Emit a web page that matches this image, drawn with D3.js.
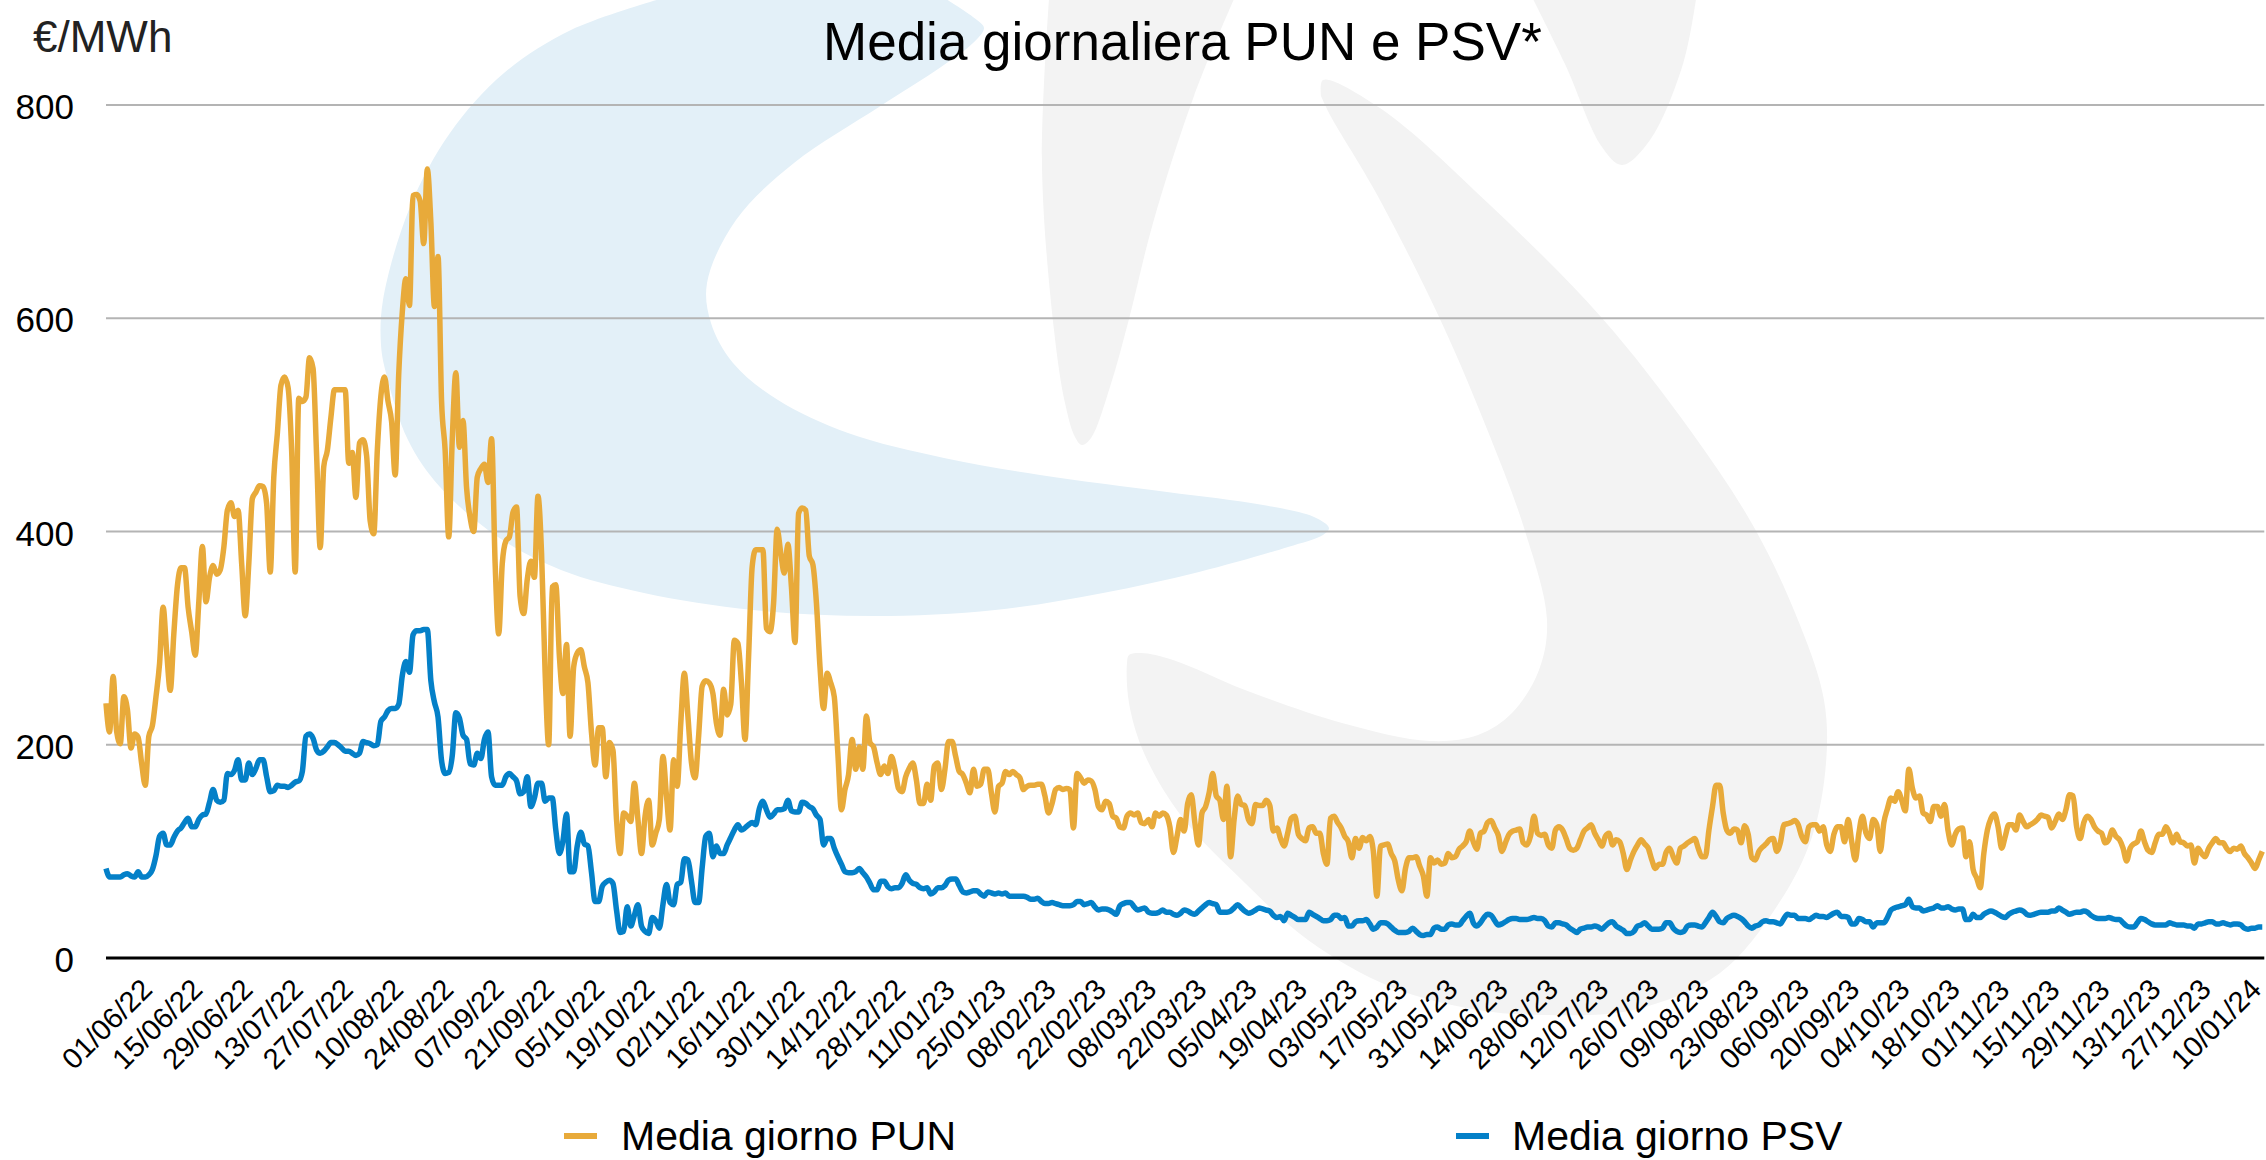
<!DOCTYPE html>
<html><head><meta charset="utf-8">
<script src="https://cdn.jsdelivr.net/npm/d3@7/dist/d3.min.js"></script>
<style>html,body{margin:0;padding:0;background:#fff}svg{display:block}text{font-family:"Liberation Sans",Arial,sans-serif}</style>
</head><body><svg id="c" width="2266" height="1160"></svg>
<script>
const titleText = "Media giornaliera PUN e PSV*";
const unitText = "€/MWh";
const seriesNames = ["Media giorno PUN", "Media giorno PSV"];
const yTicks = [0, 200, 400, 600, 800];
const xTickLabels = ["01/06/22","15/06/22","29/06/22","13/07/22","27/07/22","10/08/22","24/08/22","07/09/22","21/09/22","05/10/22","19/10/22","02/11/22","16/11/22","30/11/22","14/12/22","28/12/22","11/01/23","25/01/23","08/02/23","22/02/23","08/03/23","22/03/23","05/04/23","19/04/23","03/05/23","17/05/23","31/05/23","14/06/23","28/06/23","12/07/23","26/07/23","09/08/23","23/08/23","06/09/23","20/09/23","04/10/23","18/10/23","01/11/23","15/11/23","29/11/23","13/12/23","27/12/23","10/01/24"];
// daily values from 01/06/22
const pun = [239,212,264,212,201,245,233,197,210,207,182,162,208,218,245,276,329,287,251,304,349,366,366,329,306,284,334,386,334,357,
368,360,364,385,420,427,414,420,370,321,370,431,437,443,442,426,362,451,492,537,545,535,476,362,525,522,526,563,553,471,
385,461,476,507,533,533,533,533,464,474,432,483,486,471,410,398,476,527,545,522,503,453,548,606,637,612,715,716,710,670,
740,690,611,658,522,476,395,487,549,479,504,441,413,400,451,459,463,446,487,370,304,370,391,395,418,423,339,323,355,372,
357,433,380,268,200,348,350,283,248,294,208,273,286,289,273,258,211,181,216,216,170,202,195,130,98,136,133,128,164,130,
98,133,148,106,117,130,189,152,120,186,161,220,267,227,183,169,208,255,260,258,248,220,209,252,228,238,298,295,258,205,
283,367,383,383,383,309,306,333,402,380,361,388,348,296,417,422,420,377,369,333,273,234,267,258,245,192,139,158,172,205,
177,198,177,227,202,198,183,172,180,173,189,177,159,156,170,178,183,167,145,145,163,148,180,183,158,177,203,203,189,175,
172,164,155,177,161,163,177,177,155,137,161,164,175,172,175,172,169,158,161,162,162,163,163,152,136,145,158,160,158,159,
158,122,173,169,164,167,166,158,142,139,147,145,133,131,123,122,133,136,134,136,127,126,130,123,136,133,136,134,123,99,
114,130,119,145,153,127,106,136,142,155,173,152,148,130,161,95,130,152,144,143,130,126,144,143,143,148,143,119,122,112,
105,117,131,133,116,112,110,122,123,117,117,98,88,131,133,127,122,114,109,94,112,103,113,110,114,100,58,105,106,107,
98,91,73,63,84,94,94,95,86,77,58,94,89,92,88,89,98,94,95,102,105,109,119,109,102,117,119,127,129,122,
115,100,108,116,119,120,121,108,106,114,133,117,115,116,106,103,120,123,120,112,103,101,103,111,119,122,125,117,111,105,
114,117,106,111,109,98,83,92,100,106,111,107,103,92,84,88,88,99,103,95,89,103,105,108,110,112,103,95,95,120,
142,162,162,136,120,117,121,120,108,124,116,94,92,100,104,107,111,112,100,108,125,126,127,129,125,114,109,123,125,125,
119,123,106,100,116,123,123,109,130,109,92,117,133,117,112,130,125,100,127,140,150,147,156,148,138,177,159,150,152,136,
134,128,142,142,133,144,119,106,116,121,122,95,109,83,75,66,98,120,131,135,123,103,114,125,125,120,134,128,123,125,
127,130,134,133,132,122,128,135,130,139,153,152,123,112,127,133,130,123,119,117,108,111,120,114,111,103,91,103,107,109,
119,109,101,99,108,116,116,123,117,108,116,109,108,105,106,89,103,98,95,103,108,112,108,108,103,100,103,102,105,98,
94,89,84,92,100];
const psv = [84,76,76,76,76,78,79,77,76,81,76,76,78,83,96,114,117,106,106,113,119,122,127,131,123,123,130,134,135,146,
158,148,146,148,173,172,176,186,167,167,183,172,178,186,186,170,156,157,162,161,161,160,162,165,166,175,208,210,206,195,
192,194,198,202,202,200,197,194,194,192,190,192,203,202,201,199,200,222,226,232,234,234,238,265,278,268,303,307,307,308,
308,260,240,226,185,173,174,190,230,225,209,205,182,181,192,187,205,212,170,162,162,162,170,173,170,166,154,156,170,142,
150,164,164,147,150,150,120,98,110,135,81,81,105,118,107,105,80,53,53,67,71,73,70,45,24,25,48,30,40,50,
30,25,23,38,35,28,50,69,52,50,69,71,93,92,72,52,52,85,114,117,95,105,98,98,106,113,120,125,120,122,
125,127,125,140,147,139,132,135,139,139,140,148,138,137,137,146,145,142,140,134,130,106,112,112,103,95,88,81,80,80,
81,84,80,76,70,64,64,72,72,67,65,66,66,70,78,73,70,69,66,65,66,60,62,66,66,68,73,74,74,68,
62,61,62,63,63,60,58,62,61,60,61,60,61,58,58,58,58,58,57,55,55,56,53,51,51,52,51,50,49,49,
49,50,53,53,50,51,52,48,45,46,46,45,43,41,49,51,52,52,48,45,46,47,43,42,42,43,45,43,43,41,
40,42,45,44,42,41,44,47,50,52,51,50,43,43,43,44,47,50,47,44,42,43,45,47,46,45,44,40,38,39,
35,42,40,38,36,36,36,43,41,39,37,35,35,36,40,40,37,38,30,30,34,35,35,36,32,27,29,33,33,32,
29,26,24,24,24,25,28,25,22,21,22,22,28,29,27,27,31,32,31,31,35,39,42,33,30,33,38,41,40,35,
31,32,34,36,37,37,36,36,36,37,38,37,37,35,30,29,33,33,32,31,28,26,24,27,28,29,29,30,29,27,
30,33,34,30,28,26,23,23,25,30,31,33,30,27,27,27,28,33,33,28,25,24,25,30,31,31,30,29,33,38,
43,39,34,33,37,39,40,39,37,34,30,28,30,31,34,35,34,34,33,32,37,41,40,40,37,37,37,36,38,40,
39,39,38,40,42,43,39,39,38,32,32,37,36,34,34,29,33,33,33,38,45,47,48,49,50,55,48,47,47,44,
45,46,47,49,47,47,48,46,45,46,46,36,36,41,38,38,41,43,44,43,41,39,38,41,43,44,45,44,41,40,
41,42,43,43,43,44,44,47,45,43,41,42,43,43,44,43,40,38,37,37,37,38,37,36,36,33,30,29,29,33,
37,36,34,32,31,31,31,31,33,32,31,31,31,30,30,28,32,32,33,34,34,32,32,33,32,31,32,32,31,28,
27,28,28,29,29];

const L = 106, pxPerDay = 3.57, y0 = 958, y800 = 105;
const svg = d3.select("#c");
const x = d3.scaleLinear().domain([0, pun.length - 1]).range([L, L + (pun.length - 1) * pxPerDay]);
const y = d3.scaleLinear().domain([0, 800]).range([y0, y800]);
const xLabel = d3.scaleLinear().domain([0, xTickLabels.length - 1]).range([114, 2223]);
const xRight = x.range()[1] + 2;

// watermark
const blob = d3.line().curve(d3.curveCatmullRom.alpha(0.5));
const wm = svg.append("g");
wm.append("path").attr("fill", "#e3f0f8").attr("d", blob([[660,-1],[571,30],[504,73],[450,133],[410,207],[383,300],[381,345],[386,373],[408,440],[440,487],[498,537],[561,570],[644,593],[753,610],[874,616],[995,610],[1103,593],[1199,572],[1288,547],[1323,535],[1329,528],[1314,517],[1263,505],[1167,492],[1040,475],[944,458],[848,433],[778,400],[733,363],[711,323],[707,283],[736,220],[794,163],[879,107],[941,67],[973,43],[984,28],[977,20],[946,-1]]));
wm.append("path").attr("fill", "#f3f3f3").attr("d", blob([[1049,-1],[1042,167],[1054,330],[1065,403],[1075,437],[1082,445],[1091,438],[1110,387],[1129,319],[1153,223],[1194,96],[1234,-1]]));
wm.append("path").attr("fill", "#f3f3f3").attr("d", blob([[1533,-1],[1565,64],[1602,147],[1622,165],[1650,140],[1683,64],[1696,-1]]));
wm.append("path").attr("fill", "#f3f3f3").attr("d", blob([[1321,96],[1323,80],[1380,108],[1490,205],[1601,317],[1690,430],[1755,529],[1800,625],[1824,700],[1826,763],[1812,837],[1779,903],[1720,973],[1633,1010],[1546,1015],[1478,1010],[1391,987],[1308,940],[1245,883],[1182,817],[1144,753],[1129,703],[1127,663],[1129,655],[1141,653],[1173,660],[1245,690],[1342,723],[1430,741],[1478,735],[1512,713],[1539,670],[1547,620],[1525,531],[1489,434],[1440,319],[1375,191],[1330,115],[1321,96]]));

// grid
svg.append("g").selectAll("line").data(yTicks.filter(d => d > 0)).join("line")
  .attr("x1", L).attr("x2", xRight).attr("y1", d => y(d)).attr("y2", d => y(d))
  .attr("stroke", "#b4b4b4").attr("stroke-width", 2);

// y labels
svg.append("g").selectAll("text").data(yTicks).join("text")
  .attr("x", 74).attr("y", d => y(d) + 14).attr("text-anchor", "end")
  .attr("font-size", 35).attr("fill", "#000").text(d => d);

// series
const line = d3.line().x((d, i) => x(i)).y(d => y(d)).curve(d3.curveMonotoneX);
[[pun, "#e8aa3a"], [psv, "#0480c8"]].forEach(([s, c]) => {
  svg.append("path").attr("d", line(s)).attr("fill", "none").attr("stroke", c)
    .attr("stroke-width", 5.5).attr("stroke-linejoin", "miter").attr("stroke-miterlimit", 2);
});

// axis
svg.append("line").attr("x1", L).attr("x2", xRight).attr("y1", y0).attr("y2", y0).attr("stroke", "#000").attr("stroke-width", 3);

// x labels
svg.append("g").selectAll("text").data(xTickLabels).join("text")
  .attr("transform", (d, i) => `translate(${xLabel(i)},1031) rotate(-45)`)
  .attr("text-anchor", "middle").attr("font-size", 29).attr("fill", "#000").text(d => d);

// titles
svg.append("text").attr("x", 823).attr("y", 60).attr("font-size", 53).attr("fill", "#000").text(titleText);
svg.append("text").attr("x", 33).attr("y", 52).attr("font-size", 44).attr("fill", "#222").text(unitText);

// legend
const lg = [[564, 621, "#e8aa3a"], [1456, 1512, "#0480c8"]];
lg.forEach(([mx, tx, c], i) => {
  svg.append("rect").attr("x", mx).attr("y", 1133).attr("width", 33).attr("height", 6).attr("fill", c);
  svg.append("text").attr("x", tx).attr("y", 1150).attr("font-size", 41).attr("fill", "#000").text(seriesNames[i]);
});
</script></body></html>
